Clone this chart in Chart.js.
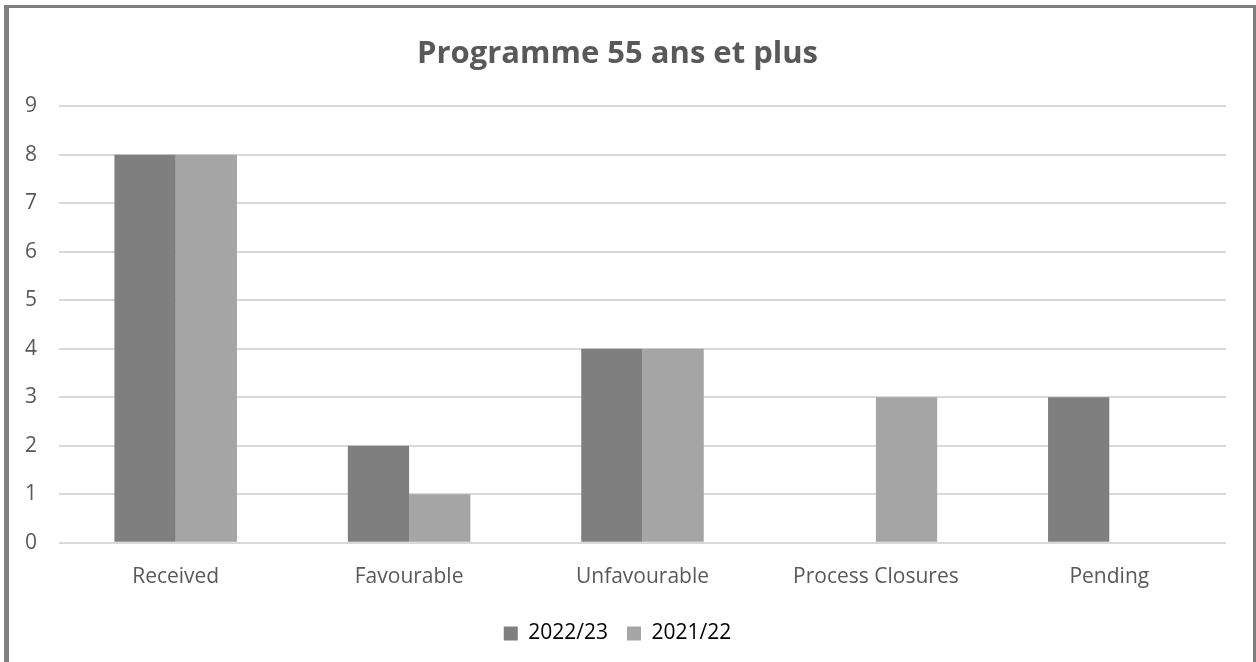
<!DOCTYPE html>
<html>
<head>
<meta charset="utf-8">
<script src="https://cdn.jsdelivr.net/npm/chart.js@4/dist/chart.umd.min.js"></script>
<style>
  html, body { margin: 0; padding: 0; background: #fff; }
  #frame {
    position: absolute; left: 4px; top: 5px;
    width: 1244px; height: 657px;
    border-left: 5px solid #7f7f7f;
    border-top: 3px solid #7f7f7f;
    border-right: 3px solid #7f7f7f;
  }
  #wrap { position: absolute; left: 0; top: 0; width: 1244px; height: 654px; }
</style>
</head>
<body>
<div id="frame"><div id="wrap"><canvas id="chart"></canvas></div></div>
<script>
const categories = ['Received', 'Favourable', 'Unfavourable', 'Process Closures', 'Pending'];
const values2223 = [8, 2, 4, 0, 3];
const values2122 = [8, 1, 4, 3, 0];
const yTicks = [0, 1, 2, 3, 4, 5, 6, 7, 8, 9];

const font = "'Open Sans', 'Noto Sans', sans-serif";

new Chart(document.getElementById('chart'), {
  type: 'bar',
  data: {
    labels: categories,
    datasets: [
      { label: '2022/23', data: values2223, backgroundColor: '#7f7f7f' },
      { label: '2021/22', data: values2122, backgroundColor: '#a5a5a5' }
    ]
  },
  options: {
    responsive: true,
    maintainAspectRatio: false,
    animation: false,
    datasets: { bar: { barPercentage: 1, categoryPercentage: 0.525 } },
    layout: { padding: { left: 0, right: 27, top: 0, bottom: 8 } },
    plugins: {
      title: {
        display: true,
        text: 'Programme 55 ans et plus',
        color: '#595959',
        font: { family: font, size: 31, weight: 'bold' },
        padding: { top: 28, bottom: 33 }
      },
      legend: {
        position: 'bottom',
        labels: {
          color: '#000',
          font: { family: font, size: 21 },
          boxWidth: 14,
          boxHeight: 14,
          padding: 19
        }
      },
      tooltip: { enabled: false }
    },
    scales: {
      x: {
        grid: { display: false },
        border: { display: false },
        ticks: { color: '#595959', font: { family: font, size: 21 }, padding: 14 }
      },
      y: {
        min: 0,
        max: 9,
        afterBuildTicks: s => { s.ticks = yTicks.map(v => ({ value: v })); },
        afterFit: s => { s.width = 50; },
        grid: { color: '#d9d9d9', lineWidth: 2, drawTicks: false },
        border: { display: false },
        ticks: { color: '#595959', font: { family: font, size: 21 }, padding: 22 }
      }
    }
  }
});
</script>
</body>
</html>
